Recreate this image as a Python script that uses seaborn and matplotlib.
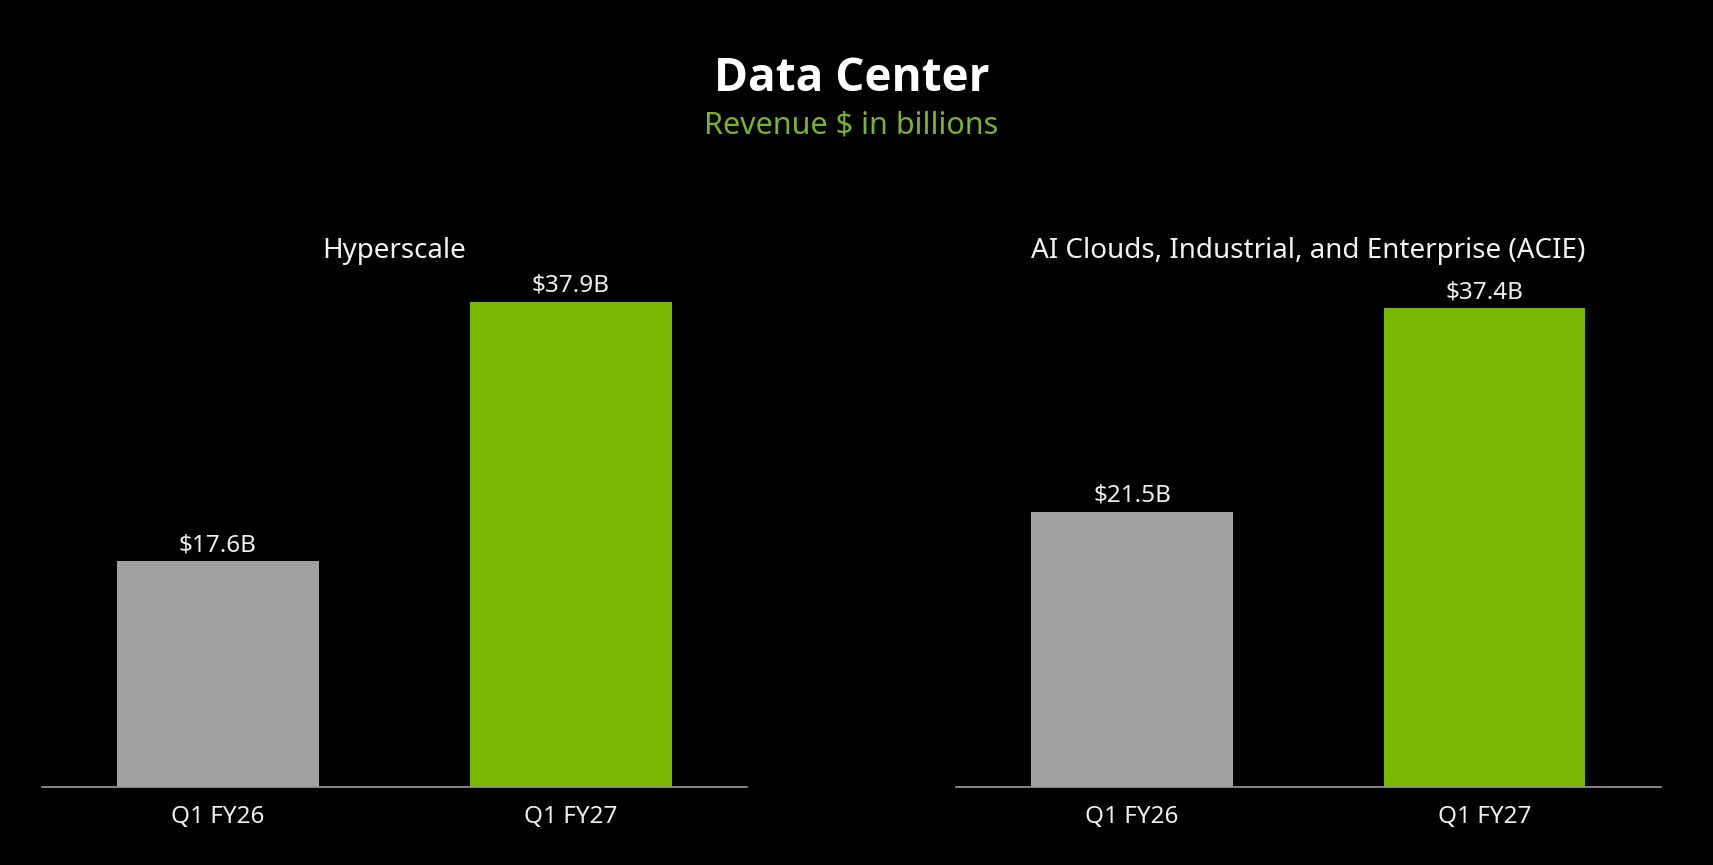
import numpy as np
import pandas as pd
import matplotlib
matplotlib.use("Agg")
import matplotlib.pyplot as plt
import seaborn as sns

# datos
quarters = ["Q1 FY26", "Q1 FY27"]
hyperscale = [17.6, 37.9]
acie = [21.5, 37.4]
panel_titles = ["Hyperscale", "AI Clouds, Industrial, and Enterprise (ACIE)"]
bar_colors = ["#a1a1a1", "#76b900"]

sns.set_theme(style="dark")
plt.rcParams['font.family'] = ['Noto Sans', 'DejaVu Sans']

fig = plt.figure(figsize=(17.13, 8.65), dpi=100, facecolor="black")

# posiciones de los ejes (fraccion de la figura)
axes_pos = [
  [41.5 / 1713, 78.4 / 865, 705.5 / 1713, 511.6 / 865],
  [956 / 1713, 78.4 / 865, 704.6 / 1713, 511.6 / 865],
]

for pos, title, values in zip(axes_pos, panel_titles, [hyperscale, acie]):
  ax = fig.add_axes(pos)
  ax.set_facecolor("black")
  df = pd.DataFrame({"quarter": quarters, "revenue": values})
  sns.barplot(data=df, x="quarter", y="revenue", hue="quarter",
              palette=bar_colors, width=0.572, legend=False, ax=ax,
              saturation=1, linewidth=0, edgecolor="none")
  ax.set_xlim(-0.5, 1.5)
  ax.set_ylim(0, 40)
  ax.set_xlabel("")
  ax.set_ylabel("")
  ax.set_yticks([])
  ax.tick_params(axis="x", length=0, pad=13, labelsize=17.5, labelcolor="#eeeeee")
  for side in ["top", "right", "left"]:
    ax.spines[side].set_visible(False)
  ax.spines["bottom"].set_visible(True)
  ax.spines["bottom"].set_color("#9a9a9a")
  ax.spines["bottom"].set_linewidth(1.2)
  ax.grid(False)
  for cont in ax.containers:
    ax.bar_label(cont, labels=[f"${v:.1f}B" for v in cont.datavalues],
                 padding=3, fontsize=17.5, color="#eeeeee")
  ax.set_title(title, color="#f2f2f2", fontsize=20, pad=12)

fig.text(0.497, 0.909, "Data Center", ha="center", va="center",
         fontsize=33, fontweight="bold", color="white",
         family=["Open Sans", "DejaVu Sans"])
fig.text(0.497, 0.855, "Revenue $ in billions", ha="center", va="center",
         fontsize=22, color="#79b42b")

fig.savefig("out.png", dpi=100, facecolor="black")
